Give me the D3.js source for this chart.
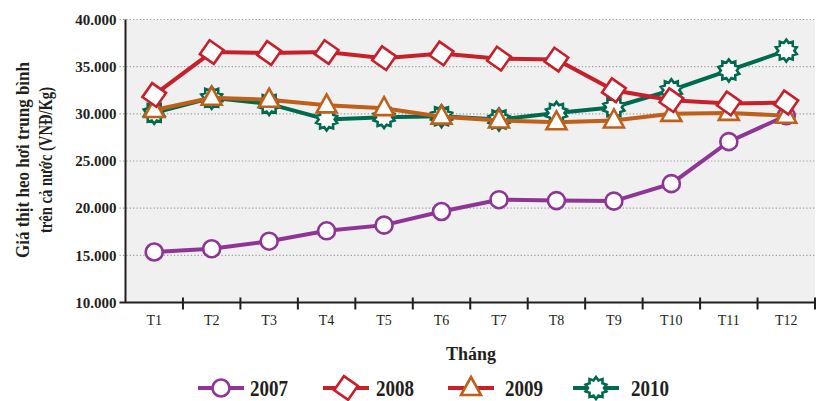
<!DOCTYPE html>
<html>
<head>
<meta charset="utf-8">
<script src="https://cdn.jsdelivr.net/npm/d3@7"></script>
<style>
  body { margin: 0; background: #fff; }
  svg { display: block; }
  text { font-family: "Liberation Serif", "DejaVu Serif", serif; fill: #231f20; }
</style>
</head>
<body>
<div id="chart"></div>
<script>
// data
var months = ["T1","T2","T3","T4","T5","T6","T7","T8","T9","T10","T11","T12"];
var y2007 = [15350, 15700, 16500, 17600, 18200, 19650, 20900, 20800, 20750, 22600, 27050, 29800];
var y2008 = [32000, 36550, 36450, 36550, 35900, 36400, 35850, 35750, 32500, 31450, 31100, 31200];
var y2009 = [30400, 31700, 31500, 30900, 30600, 29700, 29300, 29100, 29300, 30000, 30100, 29800];
var y2010 = [30100, 31700, 31050, 29400, 29650, 29750, 29400, 30100, 30700, 32500, 34600, 36700];
var yTicks = [10000, 15000, 20000, 25000, 30000, 35000, 40000];
var yearNames = ["2007", "2008", "2009", "2010"];

var W = 816, H = 401;
var margin = {top: 19.5, right: 1, bottom: 98.5, left: 125.5};
var width = W - margin.left - margin.right,
    height = H - margin.top - margin.bottom;

var svg = d3.select("#chart").append("svg")
    .attr("width", W)
    .attr("height", H);

var g = svg.append("g")
    .attr("transform", "translate(" + margin.left + "," + margin.top + ")");

var x = d3.scaleBand().domain(months).range([0, width]).padding(0);
var y = d3.scaleLinear().domain([10000, 40000]).range([height, 0]);
var cx = function(i) { return x(months[i]) + x.bandwidth() / 2; };

// plot background
g.append("rect")
    .attr("width", width).attr("height", height)
    .attr("fill", "#f0f0f0");

// dotted gridlines, starting a little left of the axis
g.selectAll(".grid")
    .data(yTicks.slice(1))
    .enter().append("line")
    .attr("x1", -6).attr("x2", width)
    .attr("y1", function(d) { return y(d); })
    .attr("y2", function(d) { return y(d); })
    .attr("stroke", "#9a9a9a")
    .attr("stroke-width", 1.2)
    .attr("stroke-dasharray", "1.2,2.2");

// y tick labels
var fmt = function(d) { return d3.format(",")(d).replace(/,/g, "."); };
g.selectAll(".ylab")
    .data(yTicks)
    .enter().append("text")
    .attr("x", -9)
    .attr("y", function(d) { return y(d); })
    .attr("dy", "0.35em")
    .attr("text-anchor", "end")
    .style("font-size", "15px")
    .style("font-weight", "bold")
    .text(fmt);

// axes lines
g.append("line").attr("x1", 0).attr("x2", 0).attr("y1", 0).attr("y2", height)
    .attr("stroke", "#231f20").attr("stroke-width", 2);
g.append("line").attr("x1", -6).attr("x2", width).attr("y1", height).attr("y2", height)
    .attr("stroke", "#231f20").attr("stroke-width", 2);

// x ticks at band edges
var edges = months.map(function(m) { return x(m); }).concat([width]).slice(1);
g.selectAll(".xtick")
    .data(edges)
    .enter().append("line")
    .attr("x1", function(d) { return d; }).attr("x2", function(d) { return d; })
    .attr("y1", height - 5).attr("y2", height + 7)
    .attr("stroke", "#231f20").attr("stroke-width", 2);

// x labels
var xAxis = g.append("g")
    .attr("transform", "translate(0," + height + ")")
    .call(d3.axisBottom(x).tickSize(0).tickPadding(13));
xAxis.select(".domain").remove();
xAxis.selectAll("text")
    .style("font-family", "'Liberation Serif', serif")
    .style("font-size", "14px")
    .attr("fill", "#231f20");

// axis titles
svg.append("text")
    .attr("x", 471).attr("y", 360)
    .attr("text-anchor", "middle")
    .style("font-size", "18px").style("font-weight", "bold")
    .text("Tháng");

svg.append("text")
    .attr("transform", "translate(29,160) rotate(-90)")
    .attr("text-anchor", "middle")
    .attr("textLength", 196).attr("lengthAdjust", "spacingAndGlyphs")
    .style("font-size", "19px").style("font-weight", "bold")
    .text("Giá thịt heo hơi trung bình");
svg.append("text")
    .attr("transform", "translate(52,160) rotate(-90)")
    .attr("text-anchor", "middle")
    .attr("textLength", 146).attr("lengthAdjust", "spacingAndGlyphs")
    .style("font-size", "19px").style("font-weight", "bold")
    .text("trên cả nước (VNĐ/Kg)");

// marker shapes
function starPath(ro, ri, n) {
    var pts = [];
    for (var k = 0; k < 2 * n; k++) {
        var r = k % 2 === 0 ? ro : ri;
        var a = Math.PI * k / n - Math.PI / 2;
        pts.push([r * Math.cos(a), r * Math.sin(a)]);
    }
    return "M" + pts.map(function(p) { return p[0].toFixed(2) + "," + p[1].toFixed(2); }).join("L") + "Z";
}
function drawMarker(sel, kind, color) {
    if (kind === "circle") {
        sel.append("circle").attr("r", 8.5);
    } else if (kind === "diamond") {
        sel.append("rect").attr("x", -8.5).attr("y", -8.5).attr("width", 17).attr("height", 17)
            .attr("transform", "rotate(35)");
    } else if (kind === "triangle") {
        sel.append("path").attr("d", "M0,-11L10,7L-10,7Z");
    } else {
        sel.append("path").attr("d", starPath(11, 8, 10));
    }
    sel.selectAll("*").attr("fill", "#fff").attr("stroke", color).attr("stroke-width", 2.6);
}

var series = [
    {name: "2010", values: y2010, color: "#006a4e", marker: "star"},
    {name: "2007", values: y2007, color: "#8e3596", marker: "circle"},
    {name: "2009", values: y2009, color: "#c05f1a", marker: "triangle"},
    {name: "2008", values: y2008, color: "#c8202b", marker: "diamond"}
];

var line = d3.line()
    .x(function(d, i) { return cx(i); })
    .y(function(d) { return y(d); });

series.forEach(function(s) {
    g.append("path")
        .datum(s.values)
        .attr("d", line)
        .attr("fill", "none")
        .attr("stroke", s.color)
        .attr("stroke-width", 4);
    s.values.forEach(function(v, i) {
        var m = g.append("g").attr("transform", "translate(" + cx(i) + "," + y(v) + ")");
        drawMarker(m, s.marker, s.color);
    });
});

// legend
var legend = [
    {name: yearNames[0], line: "#8e3596", color: "#8e3596", marker: "circle", x: 198, tx: 250},
    {name: yearNames[1], line: "#c8202b", color: "#c8202b", marker: "diamond", x: 323, tx: 376},
    {name: yearNames[2], line: "#c8202b", color: "#c05f1a", marker: "triangle", x: 448, tx: 505},
    {name: yearNames[3], line: "#006a4e", color: "#006a4e", marker: "star", x: 573, tx: 631}
];
var ly = 388;
legend.forEach(function(l) {
    svg.append("line")
        .attr("x1", l.x).attr("x2", l.x + 46)
        .attr("y1", ly).attr("y2", ly)
        .attr("stroke", l.line).attr("stroke-width", 4);
    var m = svg.append("g").attr("transform", "translate(" + (l.x + 23) + "," + ly + ")");
    drawMarker(m, l.marker, l.color);
    svg.append("text")
        .attr("x", l.tx).attr("y", ly + 8)
        .attr("textLength", 38).attr("lengthAdjust", "spacingAndGlyphs")
        .style("font-size", "24px").style("font-weight", "bold")
        .text(l.name);
});
</script>
</body>
</html>
